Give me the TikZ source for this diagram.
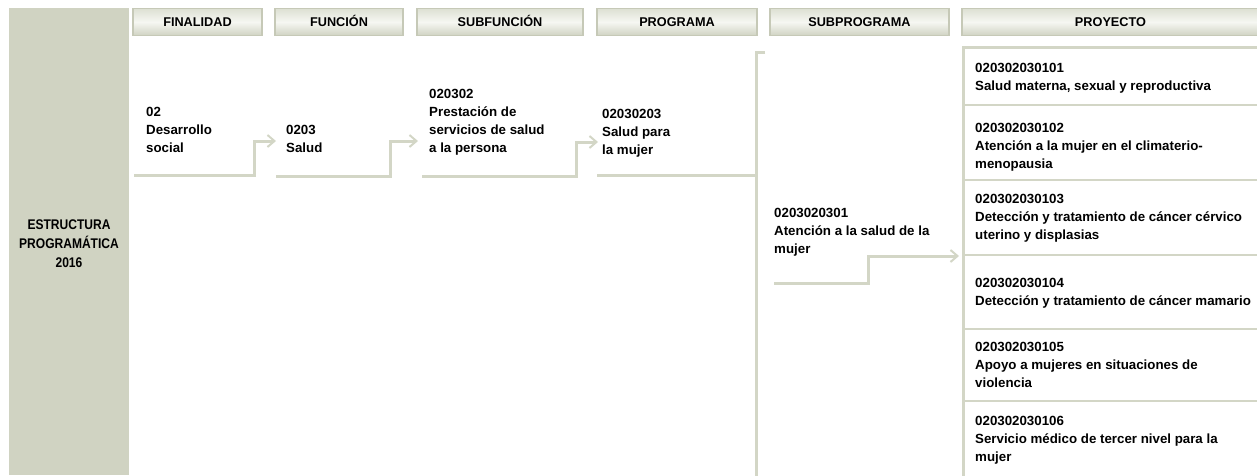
\documentclass[tikz,border=0pt]{standalone}
\usepackage{fontspec}
\setmainfont{Liberation Sans}
\newfontfamily\narrowf{Liberation Sans Bold}[FakeStretch=0.86]
\usetikzlibrary{arrows.meta}
\definecolor{panel}{HTML}{D0D3C2}
\definecolor{conn}{HTML}{D3D6C6}
\definecolor{hdrdark}{HTML}{C6C9B7}
\definecolor{hdrtop}{HTML}{DDE0D3}
\definecolor{hdrmid}{HTML}{F6F7F2}
\definecolor{hdrbot}{HTML}{D0D3C3}
\newcommand{\tb}[1]{\begin{tabular}[t]{@{}l@{}}#1\end{tabular}}
\newcommand{\tbc}[1]{\begin{tabular}[t]{@{}c@{}}#1\end{tabular}}
\begin{document}
\begin{tikzpicture}[x=1pt,y=-1pt,
  txt/.style={anchor=base west, inner sep=0pt, font=\fontsize{13.3}{18}\selectfont\bfseries},
  hdr/.style={draw=hdrdark, line width=1.2pt, top color=hdrtop, bottom color=hdrbot, middle color=hdrmid,
    minimum height=27pt, inner sep=0pt, text height=9.5pt, text depth=0pt, font=\fontsize{12.7}{15}\selectfont\bfseries},
  conline/.style={draw=conn, line width=3pt},
  arr/.style={conline, -{Straight Barb[length=7pt,width=12pt,line width=2pt]}},
  sep/.style={draw=conn, line width=2.5pt}]
\useasboundingbox (0,0) rectangle (1257,475);
% left panel
\node[fill=panel, minimum width=120pt, minimum height=467pt, inner sep=0pt, anchor=north west] (panel) at (9,8) {};
\node[anchor=base, inner sep=0pt, font=\narrowf\fontsize{14}{19}\selectfont] (ptxt) at (69,229)
  {\tbc{ESTRUCTURA\\PROGRAM\'ATICA\\2016}};
% headers
\node[hdr, minimum width=129pt] (hfin) at (197.5,22) {FINALIDAD};
\node[hdr, minimum width=128pt] (hfun) at (339,22) {FUNCI\'ON};
\node[hdr, minimum width=166pt] (hsub) at (500,22) {SUBFUNCI\'ON};
\node[hdr, minimum width=160pt] (hprg) at (677,22) {PROGRAMA};
\node[hdr, minimum width=179pt] (hspr) at (859.5,22) {SUBPROGRAMA};
\node[hdr, minimum width=297pt] (hpry) at (1110.5,22) {PROYECTO};
% texts
\node[txt] (fin) at (146,116) {\tb{02\\Desarrollo\\social}};
\node[txt] (fun) at (286,134) {\tb{0203\\Salud}};
\node[txt] (sub) at (429,98) {\tb{020302\\Prestaci\'on de\\servicios de salud\\a la persona}};
\node[txt] (prg) at (602,118.5) {\tb{02030203\\Salud para\\la mujer}};
\node[txt] (spr) at (774,217.5) {\tb{0203020301\\Atenci\'on a la salud de la\\mujer}};
% connectors
\coordinate (c1a) at (134,175); \coordinate (c1b) at (254,175); \coordinate (c1c) at (254,141); \coordinate (c1d) at (276,141);
\draw[arr] (c1a) -- (c1b) -- (c1c) -- (c1d);
\coordinate (c2a) at (276,176); \coordinate (c2b) at (390,176); \coordinate (c2c) at (390,141); \coordinate (c2d) at (418,141);
\draw[arr] (c2a) -- (c2b) -- (c2c) -- (c2d);
\coordinate (c3a) at (422,176); \coordinate (c3b) at (576,176); \coordinate (c3c) at (576,142); \coordinate (c3d) at (598,142);
\draw[arr] (c3a) -- (c3b) -- (c3c) -- (c3d);
\coordinate (c4a) at (597,175); \coordinate (c4b) at (756,175);
\draw[conline] (c4a) -- (c4b);
\coordinate (vt) at (765,52); \coordinate (vc) at (756,52); \coordinate (vb) at (756,476);
\draw[conline] (vt) -- (vc) -- (vb);
\coordinate (c5a) at (774,283); \coordinate (c5b) at (868,283); \coordinate (c5c) at (868,256); \coordinate (c5d) at (959,256);
\draw[arr] (c5a) -- (c5b) -- (c5c) -- (c5d);
% project box
\coordinate (pb) at (963,476); \coordinate (pt) at (963,47); \coordinate (pr) at (1258,47);
\draw[conline] (pb) -- (pt) -- (pr);
\foreach \yy/\nm in {105/s1,180/s2,255/s3,329/s4,401/s5}{
  \coordinate (\nm l) at (963,\yy); \coordinate (\nm r) at (1258,\yy);
  \draw[sep] (\nm l) -- (\nm r);
}
\node[txt] (p1) at (975,72) {\tb{020302030101\\Salud materna, sexual y reproductiva}};
\node[txt] (p2) at (975,132.5) {\tb{020302030102\\Atenci\'on a la mujer en el climaterio-\\menopausia}};
\node[txt] (p3) at (975,203.5) {\tb{020302030103\\Detecci\'on y tratamiento de c\'ancer c\'ervico\\uterino y displasias}};
\node[txt] (p4) at (975,287.5) {\tb{020302030104\\Detecci\'on y tratamiento de c\'ancer mamario}};
\node[txt] (p5) at (975,351.5) {\tb{020302030105\\Apoyo a mujeres en situaciones de\\violencia}};
\node[txt] (p6) at (975,425.5) {\tb{020302030106\\Servicio m\'edico de tercer nivel para la\\mujer}};
\end{tikzpicture}
\end{document}
